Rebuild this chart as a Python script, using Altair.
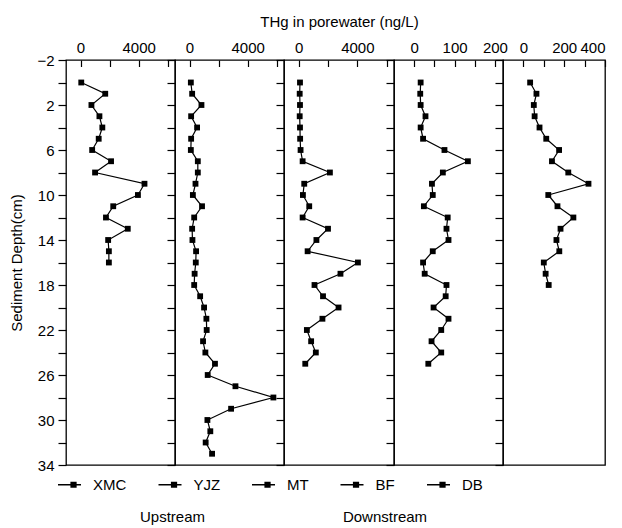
import altair as alt
import pandas as pd

FONT = "Liberation Sans"

sites = ["XMC", "YJZ", "MT", "BF", "DB"]

xmc = [50, 1700, 750, 1300, 1500, 1250, 800, 2100, 1000, 4400, 3950, 2250, 1750,
       3250, 1900, 1950, 1950]
yjz = [90, 180, 820, 110, 520, 110, 90, 570, 570, 410, 230, 860, 320, 180, 200,
       450, 430, 350, 320, 730, 1000, 1160, 1180, 930, 1090, 1750, 1250, 3160,
       5770, 2860, 1230, 1430, 1110, 1550]
mt = [90, 70, 90, 70, 90, 100, 130, 270, 2130, 380, 290, 720, 270, 2000, 1210,
      610, 4040, 2850, 1080, 1660, 2720, 1620, 560, 850, 1170, 450]
bf = [16, 15, 16, 28, 16, 22, 75, 133, 71, 44, 46, 24, 83, 80, 85, 46, 22, 26,
      80, 78, 48, 85, 67, 43, 67, 35]
db = [33, 64, 51, 55, 79, 112, 175, 140, 220, 319, 122, 167, 245, 182, 162, 176,
      100, 109, 124]

series = {"XMC": xmc, "YJZ": yjz, "MT": mt, "BF": bf, "DB": db}

x_domains = {"XMC": [-1000, 6500], "YJZ": [-1000, 6500], "MT": [-1000, 6500],
             "BF": [-50, 220], "DB": [-100, 400]}
x_ticks = {"XMC": [0, 2000, 4000, 6000], "YJZ": [0, 2000, 4000, 6000],
           "MT": [0, 2000, 4000, 6000], "BF": [0, 50, 100, 150, 200],
           "DB": [0, 100, 200, 300, 400]}
x_labels = {"XMC": [0, 4000], "YJZ": [0, 4000], "MT": [0, 4000],
            "BF": [0, 100, 200], "DB": [0, 200, 400]}
widths = {"XMC": 109, "YJZ": 109, "MT": 110, "BF": 109, "DB": 102}
depth_ticks = list(range(-2, 35, 2))
HEIGHT = 405
TICK_IN = 6.5

legend_path = ("M-1,-0.055H1V0.055H-1Z"
               "M0.08,-0.27H0.62V0.27H0.08Z")


def panel(i, site):
    vals = series[site]
    df = pd.DataFrame({"site": site, "depth": list(range(len(vals))), "thg": vals})
    xscale = alt.Scale(domain=x_domains[site], nice=False, zero=False)
    yscale = alt.Scale(domain=[-2, 34], reverse=True, nice=False, zero=False)

    shown = ",".join(str(v) for v in x_labels[site])
    xa = dict(orient="top", values=x_ticks[site], tickSize=TICK_IN,
              tickWidth=1.2, tickColor="black", offset=-TICK_IN,
              domain=False, grid=False, labelPadding=5, labelFontSize=15,
              format="d",
              labelExpr=f"indexof([{shown}], datum.value) >= 0 ? datum.label : ''")
    if site == "MT":
        xa["title"] = "THg in porewater (ng/L)"
        xa["titlePadding"] = 11
    else:
        xa["title"] = ""
    xaxis = alt.Axis(**xa)

    if i == 0:
        yaxis = alt.Axis(values=depth_ticks, tickSize=8, domain=False, grid=False,
                         tickColor="black", tickWidth=1.2,
                         labelExpr="(datum.value + 2) % 4 == 0 ? datum.label : ''",
                         title="Sediment Depth(cm)", labelPadding=4,
                         titlePadding=12.5)
    else:
        yaxis = alt.Axis(values=depth_ticks, tickSize=8, labels=False,
                         tickColor="black", tickWidth=1.2,
                         domain=False, grid=False, title="")

    base = alt.Chart(df).encode(
        x=alt.X("thg:Q", scale=xscale, axis=xaxis),
        y=alt.Y("depth:Q", scale=yscale, axis=yaxis),
        order=alt.Order("depth:Q"),
    )
    line = base.mark_line(color="black", strokeWidth=1.2)
    pts = base.mark_point(shape="square", filled=True, fill="black",
                          size=34, opacity=1, strokeWidth=0)
    layers = [line, pts]

    if i == 0:
        leg_df = pd.DataFrame({"site": sites})
        legend = alt.Chart(leg_df).transform_filter("false").mark_point(
            filled=True, fill="black", stroke="black", strokeWidth=1.2, opacity=1
        ).encode(
            shape=alt.Shape("site:N",
                            scale=alt.Scale(domain=sites, range=[legend_path] * 5),
                            legend=alt.Legend(title=None))
        )
        up = alt.Chart(pd.DataFrame({"t": ["Upstream"]})).mark_text(
            font=FONT, fontSize=15, color="black", align="center", baseline="middle"
        ).encode(text="t:N", x=alt.value(106.5), y=alt.value(457))
        down = alt.Chart(pd.DataFrame({"t": ["Downstream"]})).mark_text(
            font=FONT, fontSize=15, color="black", align="center", baseline="middle"
        ).encode(text="t:N", x=alt.value(319), y=alt.value(457))
        layers += [legend, up, down]

    return alt.layer(*layers).properties(width=widths[site], height=HEIGHT)


chart = alt.hconcat(
    *[panel(i, s) for i, s in enumerate(sites)], spacing=0, bounds="flush"
).properties(
    padding={"left": 8, "top": 13, "right": 5, "bottom": 5}
).configure_view(
    stroke="black", strokeWidth=1.3
).configure_axis(
    labelFont=FONT, titleFont=FONT, labelFontSize=15, titleFontSize=15,
    labelColor="black", titleColor="black", tickColor="black",
    titleFontWeight="normal",
).configure_legend(
    orient="none", legendX=-8, legendY=413, direction="horizontal",
    labelFont=FONT, labelFontSize=15, labelColor="black",
    symbolSize=529, symbolFillColor="black", symbolStrokeColor="black",
    symbolStrokeWidth=0, symbolOpacity=1, labelOffset=12, columnPadding=31.5,
    padding=0,
)

chart.save("out.html", embed_options={"renderer": "svg", "actions": False})
